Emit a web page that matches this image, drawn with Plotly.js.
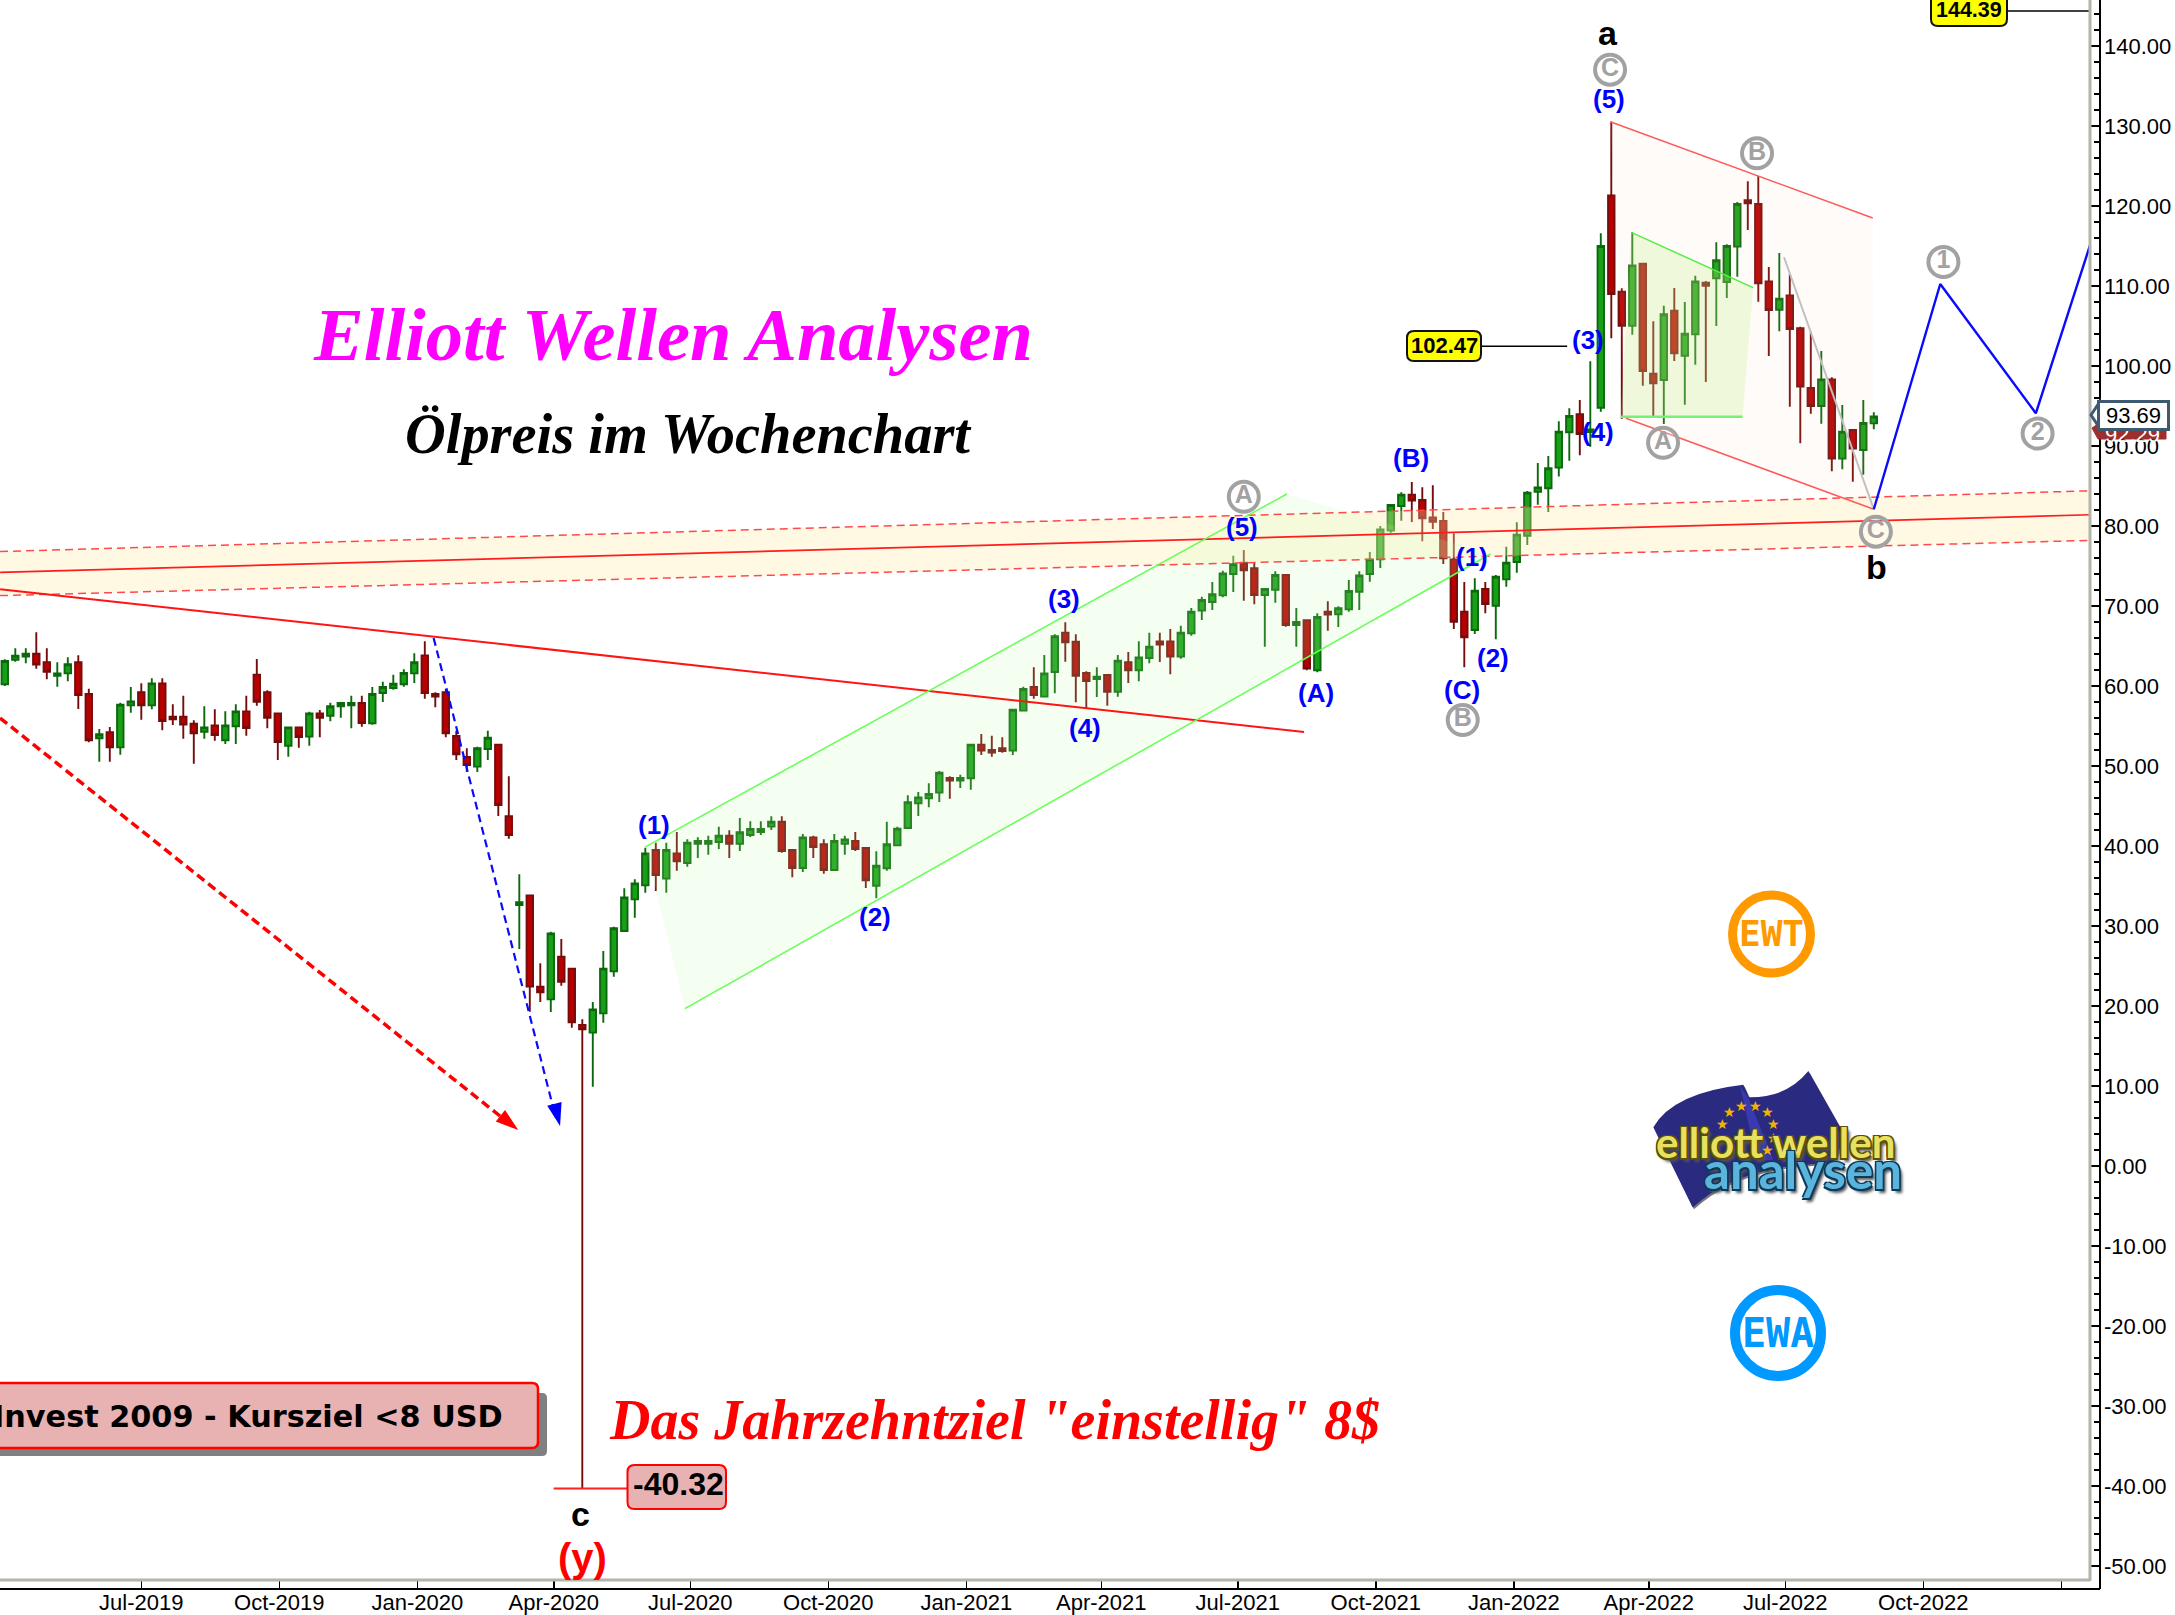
<!DOCTYPE html>
<html><head><meta charset="utf-8">
<script src="https://cdn.plot.ly/plotly-3.0.1.min.js"></script>
<style>html,body{margin:0;padding:0;background:#fff}#c{width:2175px;height:1615px}</style>
</head><body><div id="c"></div>
<script>
const opens=[60.21,63.29,63.67,64.04,62.96,61.29,61.58,62.96,59.0,53.46,54.21,52.33,57.58,59.21,57.58,60.33,56.17,56.17,55.29,54.29,55.08,53.21,54.96,56.83,61.42,59.21,56.58,52.54,54.83,53.67,56.58,56.29,57.46,57.58,57.88,55.33,59.13,59.75,60.21,61.58,63.83,59.0,59.21,53.75,51.13,49.92,52.13,52.67,43.71,32.63,33.83,22.42,20.83,26.17,24.67,17.63,16.67,19.08,24.33,
29.38,33.33,35.08,39.5,35.92,39.08,37.88,40.29,40.29,40.5,41.29,40.29,41.38,41.75,42.42,43.04,39.5,37.25,41.08,40.21,37.0,40.29,40.63,39.75,35.04,37.21,40.08,42.25,45.33,45.96,46.67,48.5,48.17,48.46,52.67,52.0,52.21,51.92,
56.92,59.88,58.67,61.75,66.67,65.54,61.63,60.88,61.38,59.29,62.96,61.96,63.5,65.58,65.58,63.67,66.58,69.42,70.5,71.33,74.0,75.42,74.71,71.38,72.04,73.88,67.63,68.21,61.96,69.29,68.96,69.58,71.79,74.0,75.83,79.42,82.5,83.92,83.25,81.08,80.63,75.83,69.29,67.0,72.13,70.04,73.33,75.5,78.79,84.29,84.71,87.3,91.71,93.96,91.75,94.79,121.33,109.29,105.04,112.79,99.04,98.25,106.92,101.29,103.96,110.42,110.96,110.5,114.92,120.71,120.25,110.58,107.04,108.83,104.71,97.25,95.0,98.33,88.42,92.0,89.5,92.83];
const highs=[63.33,64.71,64.71,66.71,64.71,62.96,63.58,63.83,59.67,54.63,54.88,57.92,59.88,60.33,60.96,60.96,57.71,58.79,55.71,57.46,57.08,56.83,57.71,58.79,63.38,59.46,56.58,54.83,54.83,56.79,57.0,57.92,57.92,58.79,58.79,59.88,60.54,61.42,62.08,64.08,65.58,59.21,59.67,54.42,52.21,52.42,54.42,52.67,48.71,36.46,33.83,25.33,29.29,28.38,24.67,18.33,20.5,26.88,29.92,
34.71,35.83,39.79,40.42,40.42,41.75,40.83,41.08,41.29,42.42,41.96,43.5,43.08,43.08,43.71,43.71,39.5,41.5,41.29,40.83,41.5,41.29,41.75,39.75,39.33,43.04,42.42,46.33,46.75,47.83,49.38,48.71,48.92,52.71,54.0,53.79,53.58,57.13,
59.92,62.33,63.88,66.46,67.96,66.46,61.83,62.33,61.38,63.88,64.25,65.58,66.67,66.67,67.13,67.54,69.75,71.17,73.0,74.42,76.29,77.0,75.5,72.13,74.33,73.88,69.75,68.21,69.08,70.58,69.96,73.25,74.33,76.75,80.0,82.63,84.21,85.5,84.83,85.08,81.75,79.08,73.0,73.46,73.0,73.88,77.42,80.46,84.38,87.88,88.75,93.1,94.71,95.75,100.58,116.58,130.54,109.71,116.71,112.83,105.58,107.54,109.75,108.0,111.29,110.63,115.46,115.21,120.5,123.08,123.75,112.38,114.13,111.5,104.92,104.29,101.88,98.58,95.13,92.0,95.75,94.21];
const lows=[60.0,63.04,62.83,62.17,60.83,59.92,60.58,57.13,52.96,50.54,50.54,51.42,56.67,55.79,57.08,54.46,55.13,53.42,50.29,53.42,53.17,52.75,52.75,53.79,57.54,54.71,50.75,51.17,52.29,52.54,53.58,55.58,56.04,54.71,54.92,55.17,58.0,59.54,59.92,60.38,58.42,57.33,53.58,50.75,49.25,49.25,50.75,43.75,40.92,27.13,19.29,20.5,19.25,22.54,17.29,-40.32,9.92,17.92,23.67,
29.29,31.04,34.17,34.38,34.17,36.92,37.42,38.5,38.92,39.63,38.5,39.38,41.13,41.38,42.0,39.17,36.08,36.75,38.5,36.54,37.0,38.92,39.38,34.75,33.46,36.92,40.08,42.17,43.75,44.83,45.5,45.92,47.25,47.04,51.38,51.17,51.67,51.38,
56.83,58.42,58.67,59.08,63.04,57.96,57.25,58.63,57.54,58.67,60.38,60.58,62.83,63.0,61.46,63.42,66.29,68.25,69.5,71.08,71.75,70.67,70.21,64.92,70.42,67.42,64.92,61.96,61.71,66.92,67.38,69.29,69.5,73.04,74.75,79.17,80.67,80.5,78.08,79.63,75.25,67.13,62.33,66.5,69.08,65.83,72.42,74.17,77.63,82.67,81.75,86.2,88.17,88.83,89.92,94.29,103.46,93.42,103.92,97.54,93.67,92.75,100.63,95.17,100.17,98.0,105.0,108.5,111.17,117.0,108.04,101.25,104.33,94.92,90.33,94.04,92.79,86.83,87.08,85.54,86.42,92.08];
const closes=[63.13,63.79,64.04,62.67,61.79,61.58,62.71,58.88,53.21,53.96,52.33,57.67,58.08,57.58,60.33,55.63,55.83,55.17,54.08,54.83,53.88,55.08,56.83,54.75,58.04,56.04,53.0,54.83,53.63,56.58,56.04,57.46,57.88,57.88,55.38,59.0,59.88,60.29,61.63,62.96,59.13,58.67,54.08,51.46,50.13,52.21,53.54,45.13,41.38,32.96,22.42,21.71,29.08,23.04,17.96,17.08,19.58,24.67,29.71,
33.58,35.33,39.08,36.38,39.5,38.08,40.42,40.63,40.63,41.29,40.29,41.71,42.13,42.13,43.04,39.38,37.25,41.08,39.88,37.0,40.63,40.83,39.63,35.71,37.54,40.21,42.17,45.46,46.08,46.5,49.17,48.17,48.5,52.67,51.92,51.67,51.88,57.04,
59.63,58.88,61.58,66.21,65.46,61.29,60.63,61.17,59.29,63.17,61.96,63.58,64.92,65.17,63.67,66.67,69.29,70.75,71.46,74.08,75.21,74.46,71.38,72.13,73.88,67.63,68.0,62.17,68.63,68.92,69.71,71.88,73.83,75.83,79.58,82.63,83.92,83.17,80.96,80.54,75.96,68.04,66.08,71.92,70.25,73.67,75.42,78.92,84.17,84.83,87.21,91.8,93.75,91.5,92.08,115.0,109.0,105.04,112.58,99.38,97.83,106.46,101.58,104.04,110.58,110.04,113.21,115.0,120.25,120.33,110.33,107.0,108.42,104.63,97.42,95.0,98.33,88.42,91.79,89.67,92.88,93.69];

const xTickDates=['2019-07-01','2019-10-01','2020-01-01','2020-04-01','2020-07-01','2020-10-01','2021-01-01','2021-04-01','2021-07-01','2021-10-01','2022-01-01','2022-04-01','2022-07-01','2022-10-01','2023-01-01'];
const xTickLabels=['Jul-2019','Oct-2019','Jan-2020','Apr-2020','Jul-2020','Oct-2020','Jan-2021','Apr-2021','Jul-2021','Oct-2021','Jan-2022','Apr-2022','Jul-2022','Oct-2022',''];
const yTicks=[140,130,120,110,100,90,80,70,60,50,40,30,20,10,0,-10,-20,-30,-40,-50];

// pricing lines: [week index, price]
const bandUpper=[[-0.45,76.8],[198.6,84.4]];
const bandMid=[[-0.45,74.2],[198.6,81.4]];
const bandLower=[[-0.45,71.3],[198.6,78.2]];
const longResistance=[[-0.45,72.09],[123.74,54.25]];
const redArrowLine=[[-0.45,56.0],[47.64,5.75]];
const blueArrowLine=[[40.84,66.0],[52.4,6.4]];
const lowLevel=[[52.27,-40.32],[59.3,-40.32]];
const level102=[[140.6,102.47],[148.8,102.47]];
const level144=[[190.66,144.39],[198.6,144.39]];
const bigGreenChannel=[[61.0,39.9],[122.1,84.0],[141.5,76.5],[64.77,19.66]];
const bigRedChannel=[[152.9,130.54],[177.9,118.5],[178,82.09],[154.4,93.46]];
const smallGreenChannel=[[154.9,116.71],[166.5,109.79],[165.5,93.66],[153.9,93.66]];
const grayLine=[[169.45,113.59],[178,82.09]];
const forecastLine=[[178,82.09],[184.33,110.25],[193.43,94.09],[198.6,115.13]];
const circleLabels=['A','B','C','B','A','C','1','2'];
const circleWeeks=[118,138.85,152.88,166.88,157.93,178.2,184.63,193.6];
const circlePrices=[83.66,55.75,137.04,126.59,90.41,79.29,113,91.55];

const DAY=86400000, START=Date.UTC(2019,3,1);
const wk=i=>new Date(START+i*7*DAY).toISOString().slice(0,19).replace('T',' ');
const dates=opens.map((_,i)=>wk(i));
const X=x=>x/2100, Y=y=>1-y/1589;

function seg(pts,color,width,dash,extra){
  return Object.assign({type:'scatter',mode:'lines',x:pts.map(p=>wk(p[0])),y:pts.map(p=>p[1]),
    line:{color:color,width:width,dash:dash||'solid'},hoverinfo:'skip',showlegend:false},extra||{});
}
function poly(pts,fill){
  const c=pts.concat([pts[0]]);
  return {type:'scatter',mode:'none',x:c.map(p=>wk(p[0])),y:c.map(p=>p[1]),fill:'toself',fillcolor:fill,hoverinfo:'skip',showlegend:false};
}
function arrow(i,p,angle,color){
  return {type:'scatter',mode:'markers',x:[wk(i)],y:[p],marker:{symbol:'arrow',size:24,color:color,angle:angle,line:{width:0}},hoverinfo:'skip',showlegend:false};
}
const bandPoly=[bandUpper[0],bandUpper[1],bandLower[1],bandLower[0]];
const data=[
 {type:'candlestick',x:dates,open:opens,high:highs,low:lows,close:closes,whiskerwidth:0,
  increasing:{line:{color:'#0c680c',width:1.9},fillcolor:'#17a017'},
  decreasing:{line:{color:'#750c0c',width:1.9},fillcolor:'#b80000'},hoverinfo:'skip',showlegend:false},
 poly(bandPoly,'rgba(255,235,172,0.32)'),
 poly(bigGreenChannel,'rgba(190,255,170,0.16)'),
 poly(bigRedChannel,'rgba(255,205,175,0.08)'),
 poly(smallGreenChannel,'rgba(190,240,130,0.25)'),
 seg(bandUpper,'#ff4a4a',1.5,'8px,5px'),
 seg(bandLower,'#ff4a4a',1.5,'8px,5px'),
 seg(bandMid,'#ff1c1c',1.6),
 seg(longResistance,'#ff1414',2),
 seg(redArrowLine,'#ff0000',3.5,'9px,5px'),
 seg(blueArrowLine,'#0a0aff',2.2,'8px,5px'),
 arrow(48.9,4.5,128.6,'#ff0000'),
 arrow(52.88,5.0,165.7,'#0000ff'),
 seg(lowLevel,'#ff2020',2),
 seg(level102,'#000000',1.5),
 seg(level144,'#000000',1.5),
 seg([bigGreenChannel[0],bigGreenChannel[1]],'#66ff55',1.5),
 seg([bigGreenChannel[3],bigGreenChannel[2]],'#66ff55',1.5),
 seg([bigRedChannel[0],bigRedChannel[1]],'#ff5a5a',1.5),
 seg([bigRedChannel[3],bigRedChannel[2]],'#ff5a5a',1.5),
 seg([smallGreenChannel[0],smallGreenChannel[1]],'#55ee44',1.5),
 seg([smallGreenChannel[3],smallGreenChannel[2]],'#77f077',2.5),
 seg(grayLine,'#c0c0c0',2),
 seg(forecastLine,'#0a0aff',2.4),
 {type:'scatter',mode:'markers+text',x:circleWeeks.map(wk),y:circlePrices,text:circleLabels,textposition:'middle center',
  textfont:{family:'Liberation Sans',size:25,color:'#a2a2a2',weight:700},
  marker:{symbol:'circle',size:30,color:'rgba(255,255,255,0.25)',line:{color:'#a2a2a2',width:4}},
  hoverinfo:'skip',showlegend:false}
];

function rr(x0,y0,x1,y1,r){
  return `M ${X(x0+r)} ${Y(y0)} L ${X(x1-r)} ${Y(y0)} Q ${X(x1)} ${Y(y0)} ${X(x1)} ${Y(y0+r)} L ${X(x1)} ${Y(y1-r)} Q ${X(x1)} ${Y(y1)} ${X(x1-r)} ${Y(y1)} L ${X(x0+r)} ${Y(y1)} Q ${X(x0)} ${Y(y1)} ${X(x0)} ${Y(y1-r)} L ${X(x0)} ${Y(y0+r)} Q ${X(x0)} ${Y(y0)} ${X(x0+r)} ${Y(y0)} Z`;
}
function pathShape(d,fill,line,w){return {type:'path',xref:'paper',yref:'paper',path:d,fillcolor:fill,line:{color:line||'rgba(0,0,0,0)',width:w||0},layer:'above'};}
function lineShape(x0,y0,x1,y1,c,w){return {type:'line',xref:'paper',yref:'paper',x0:X(x0),y0:Y(y0),x1:X(x1),y1:Y(y1),line:{color:c,width:w},layer:'above'};}
function circleShape(cx,cy,r,c,w){return {type:'circle',xref:'paper',yref:'paper',x0:X(cx-r),x1:X(cx+r),y0:Y(cy+r),y1:Y(cy-r),fillcolor:'rgba(0,0,0,0)',line:{color:c,width:w},layer:'above'};}
const L=(zx,zy)=>[1600+zx/3,860+zy/2.9];
function lpath(cmds){
  return cmds.map(c=>{
    const t=c[0],p=c.slice(1);let s=t;
    for(let i=0;i<p.length;i+=2){const q=L(p[i],p[i+1]);s+=' '+X(q[0])+' '+Y(q[1]);}
    return s;}).join(' ')+' Z';
}
const flagCmd=(dx,dy)=>[
 ['M',160+dx,775+dy],['Q',220+dx,675+dy,430+dx,652+dy],['L',447+dx,688+dy],['Q',560+dx,690+dy,625+dx,612+dy],
 ['L',735+dx,800+dy],['L',700+dx,880+dy],['Q',420+dx,880+dy,278+dx,1008+dy]
];
const shapes=[
 lineShape(0,1580,2090,1580,'#b4b4a8',3),
 lineShape(2090,0,2090,1581,'#b4b4a8',3),
 lineShape(0,1589,2100,1589,'#000',2),
 lineShape(2100,0,2100,1589,'#000',2),
 pathShape(rr(-20,1393,547,1456,5),'#808080'),
 pathShape(rr(-20,1383,538,1448,6),'#e8b2b2','#ff0000',2.5),
 pathShape(rr(627.5,1465,726,1509,7),'#e8b2b2','#ff0000',2),
 pathShape(rr(1407,331,1481,361,7),'#ffff00','#111',2),
 pathShape(rr(1931,-6,2007,26,7),'#ffff00','#111',2),
 circleShape(1771.5,934,39,'#ff9900',9),
 circleShape(1778,1333,43,'#0099ff',10),
 pathShape(lpath(flagCmd(4,5)),'#777777'),
 pathShape(lpath(flagCmd(0,0)),'#2a2a80'),
 pathShape(lpath([['M',420,655],['L',445,690],['L',520,870],['L',470,870]]),'#3a3ab0'),
 pathShape(`M ${X(2092)} ${Y(428)} L ${X(2098)} ${Y(424)} L ${X(2166)} ${Y(424)} L ${X(2166)} ${Y(439)} L ${X(2098)} ${Y(439)} Z`,'#9c2f2f','#9c2f2f',1),
 pathShape(`M ${X(2091)} ${Y(415)} L ${X(2099)} ${Y(403)} L ${X(2099)} ${Y(427)} Z`,'#ffffff','#3e5a70',3)
];
function ann(t,x,y,size,color,o){
  o=o||{};
  return Object.assign({xref:'paper',yref:'paper',x:X(x),y:Y(y),text:t,showarrow:false,xanchor:'center',yanchor:'middle',
    font:{family:o.family||'Liberation Sans',size:size,color:color,shadow:o.shadow||'none'}},o.extra||{});
}
const waveLabels=[['(1)',654,825],['(2)',874.5,917],['(3)',1064,599],['(4)',1085,728],['(5)',1242,527],['(A)',1316,693],['(B)',1411,458],['(C)',1462,690],['(1)',1472,557],['(2)',1493,658],['(3)',1588,340],['(4)',1598,432],['(5)',1608.7,99]];
const stars=[[388,732],[424,712],[466,712],[501,732],[521,767],[520,805],[502,840],[367,767]];
const yShadow='1.5px 1.5px 0 #5a5000,-1.5px 1.5px 0 #5a5000,1.5px -1.5px 0 #5a5000,-1.5px -1.5px 0 #5a5000,3px 4px 3px #555';
const bShadow='1.5px 1.5px 0 #0e3a5a,-1.5px 1.5px 0 #0e3a5a,1.5px -1.5px 0 #0e3a5a,-1.5px -1.5px 0 #0e3a5a,3px 4px 3px #555';
const annotations=[
 ann('<b><i>Elliott Wellen Analysen</i></b>',673,335,74.5,'#ff00ff',{family:'Liberation Serif'}),
 ann('<b><i>Ölpreis im Wochenchart</i></b>',688,434,56.4,'#000',{family:'Liberation Serif'}),
 ann('<b><i>Das Jahrzehntziel "einstellig" 8$</i></b>',994.5,1420,56,'#ff0000',{family:'Liberation Serif'}),
 ann('<b>Invest 2009 - Kursziel &lt;8 USD</b>',505,1416,30.3,'#000',{family:'DejaVu Sans',extra:{xanchor:'right'}}),
 ann('<b>-40.32</b>',678.5,1484,32,'#000'),
 ann('<b>102.47</b>',1444,346,22,'#000'),
 ann('<b>144.39</b>',1969,10,21.5,'#000'),
 ann('<b>a</b>',1608,33,34,'#000'),
 ann('<b>b</b>',1876,567,34,'#000'),
 ann('<b>c</b>',580.6,1514,34,'#000'),
 ann('<b>(y)</b>',582,1558,40,'#ff0000'),
 ann('<b>EWT</b>',1771.5,934,36,'#ff9900',{family:'DejaVu Sans Mono'}),
 ann('<b>EWA</b>',1778,1333,40,'#0099ff',{family:'DejaVu Sans Mono'})
].concat(waveLabels.map(w=>ann('<b>'+w[0]+'</b>',w[1],w[2],26,'#0000ff')))
 .concat(stars.map(s=>{const q=L(s[0],s[1]);return ann('★',q[0],q[1],14,'#f0b400');}))
 .concat([
 ann('<b>elliott wellen</b>',1775,1142,42,'#e8e060',{family:'Lato',shadow:yShadow}),
 ann('<b>analysen</b>',1803,1169,51,'#5ab4dc',{family:'Lato',shadow:bShadow}),
 ann('92.29',2132,434,22,'#ffffff'),
 ann('93.69',2133,415.5,22,'#000',{extra:{bgcolor:'#ffffff',bordercolor:'#3e5a70',borderwidth:3,borderpad:0,width:67,height:25,align:'center',valign:'middle'}})
 ]);

const layout={
 width:2175,height:1615,paper_bgcolor:'#fff',plot_bgcolor:'#fff',showlegend:false,
 margin:{l:0,r:75,t:0,b:26,pad:0,autoexpand:false},
 boxmode:'overlay',boxgap:0.12,
 xaxis:{type:'date',domain:[0,2090/2100],range:['2019-03-28 19:12','2023-01-20 03:12'],rangeslider:{visible:false},
  anchor:'free',position:0,showgrid:false,zeroline:false,showline:false,ticks:'inside',ticklen:9,tickwidth:1.5,tickcolor:'#000',
  tickmode:'array',tickvals:xTickDates,ticktext:xTickLabels,tickangle:0,tickfont:{family:'Liberation Sans',size:22,color:'#000'},ticklabelstandoff:-2,automargin:false},
 yaxis:{domain:[9/1589,1],range:[-51.75,145.75],side:'right',anchor:'free',position:1,showgrid:false,zeroline:false,showline:false,
  ticks:'inside',ticklen:10,tickwidth:1.5,tickcolor:'#000',tickmode:'array',tickvals:yTicks,ticktext:yTicks.map(v=>v.toFixed(2)),
  tickfont:{family:'Liberation Sans',size:22,color:'#000'},ticklabelstandoff:3,automargin:false,
  minor:{tickmode:'linear',tick0:0,dtick:2,ticks:'inside',ticklen:6,tickwidth:1.5,tickcolor:'#000',showgrid:false}},
 shapes:shapes,annotations:annotations
};
Plotly.newPlot('c',data,layout,{displayModeBar:false,staticPlot:true});
</script></body></html>
